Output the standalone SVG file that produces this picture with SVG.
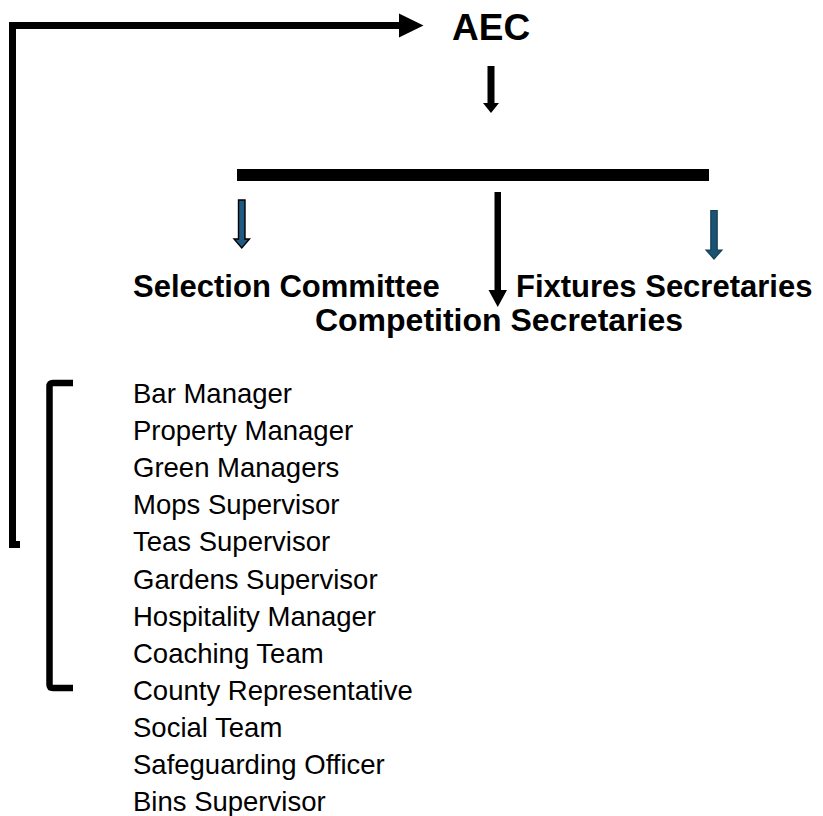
<svg xmlns="http://www.w3.org/2000/svg" width="823" height="816" viewBox="0 0 823 816">
  <style>
    .head { font-family: "Liberation Sans", Arial, sans-serif; font-weight: bold; fill: #000; }
    .role { font-family: "Liberation Sans", Arial, sans-serif; font-size: 27.5px; fill: #000; }
    .line { fill: none; stroke: #000; }
    .arrow-black { fill: #000; }
    .arrow-blue-a { fill: #1f5a82; stroke: #000; stroke-width: 1.4; }
    .arrow-blue-b { fill: #1b5373; stroke: #163f57; stroke-width: 1.2; }
  </style>

  <rect width="823" height="816" fill="#fff"/>

  <!-- connectors -->
  <g id="connectors">
    <!-- feedback loop from the role list back up to the AEC -->
    <path class="line" d="M20,544.5 H12.5 V25.5 H400" stroke-width="7"/>
    <polygon class="arrow-black" points="399,13.5 423.5,25.5 399,37.5"/>

    <!-- AEC down to the distribution bar -->
    <polygon class="arrow-black" points="487.5,66 494.5,66 494.5,103 499,103 491,113 483,103 487.5,103"/>

    <!-- distribution bar -->
    <rect x="237" y="169" width="472" height="12" fill="#000"/>

    <!-- bar down to each committee -->
    <polygon class="arrow-blue-a" points="238.5,200 245,200 245,239 249.5,239 241.75,248 234,239 238.5,239"/>
    <polygon class="arrow-black" points="494.5,192 501,192 501,290 507,290 497.75,307 488.5,290 494.5,290"/>
    <polygon class="arrow-blue-b" points="710.8,210.5 717.2,210.5 717.2,250 722,250 714,259 706,250 710.8,250"/>

    <!-- bracket grouping the supporting roles -->
    <path class="line" d="M73,383 H53 Q49.5,383 49.5,386.5 V684.5 Q49.5,688 53,688 H73" stroke-width="6.5"/>
  </g>

  <g id="node-aec">
    <text class="head" x="452" y="40" font-size="37">AEC</text>
  </g>

  <g id="node-selection">
    <text class="head" x="133" y="297" font-size="31">Selection Committee</text>
  </g>

  <g id="node-fixtures">
    <text class="head" x="516" y="297" font-size="31">Fixtures Secretaries</text>
  </g>

  <g id="node-competition">
    <text class="head" x="499" y="331" font-size="32" text-anchor="middle">Competition Secretaries</text>
  </g>

  <g id="node-roles">
    <text class="role" x="133" y="403">Bar Manager</text>
    <text class="role" x="133" y="440.1">Property Manager</text>
    <text class="role" x="133" y="477.2">Green Managers</text>
    <text class="role" x="133" y="514.3">Mops Supervisor</text>
    <text class="role" x="133" y="551.4">Teas Supervisor</text>
    <text class="role" x="133" y="588.5">Gardens Supervisor</text>
    <text class="role" x="133" y="625.6">Hospitality Manager</text>
    <text class="role" x="133" y="662.7">Coaching Team</text>
    <text class="role" x="133" y="699.8">County Representative</text>
    <text class="role" x="133" y="736.9">Social Team</text>
    <text class="role" x="133" y="774">Safeguarding Officer</text>
    <text class="role" x="133" y="811">Bins Supervisor</text>
  </g>
</svg>
